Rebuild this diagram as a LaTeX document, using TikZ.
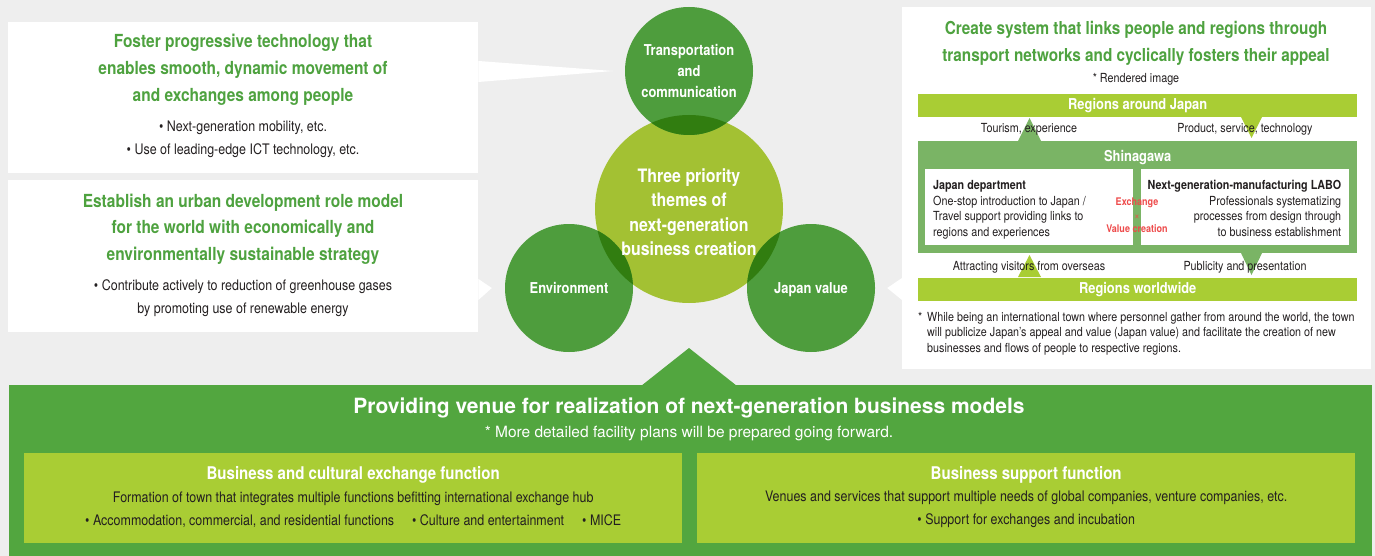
\documentclass[tikz,border=0pt]{standalone}
\usepackage{fontspec}
\setmainfont{TeX Gyre Heros}[FakeStretch=0.86]
\newfontfamily\plainheros{TeX Gyre Heros}
\usepackage{tikz}
\usetikzlibrary{positioning}
\definecolor{bggrey}{HTML}{EEEEEE}
\definecolor{leafgreen}{HTML}{4EA23F}
\definecolor{circgreen}{HTML}{4E9D3D}
\definecolor{corelime}{HTML}{A3C133}
\definecolor{overlapgreen}{HTML}{317D10}
\definecolor{basegreen}{HTML}{52A63F}
\definecolor{barlime}{HTML}{A9CD34}
\definecolor{shinagreen}{HTML}{7AB465}
\definecolor{exred}{HTML}{EE4B4B}
\definecolor{textdark}{HTML}{231F20}

\begin{document}
\begin{tikzpicture}[x=1pt, y=-1pt,
                    panel/.style={rectangle, fill=white, inner sep=0},
                    headline/.style={text=leafgreen, font=\bfseries\fontsize{18}{27}\selectfont, align=center, inner sep=0},
                    note/.style={text=textdark, font=\fontsize{14.5}{23}\selectfont, align=center, inner sep=0},
                    small/.style={text=textdark, font=\fontsize{12.5}{15.7}\selectfont, inner sep=0},
                    theme/.style={circle, fill=circgreen, minimum size=128pt, inner sep=0, text=white, font=\bfseries\fontsize{15}{21}\selectfont, align=center},
                    core/.style={circle, fill=corelime, minimum size=188pt, inner sep=0},
                    bar/.style={rectangle, fill=barlime, minimum width=439pt, minimum height=23pt, inner sep=0, text=white, font=\bfseries\fontsize{15}{18}\selectfont},
                    func/.style={rectangle, fill=barlime, minimum width=658pt, minimum height=90pt, inner sep=0},
                    funchead/.style={text=white, font=\bfseries\fontsize{17.5}{21}\selectfont, inner sep=0}]
\fill[bggrey] (0,0) rectangle (1375,556);
\useasboundingbox (0,0) rectangle (1375,556);
% left panels
\node (foster) [panel, minimum width=470pt, minimum height=151pt, anchor=north west] at (8,22) {};
\node (urban) [panel, minimum width=470pt, minimum height=152pt, anchor=north west] at (8,180) {};
\node (fosterhead) [headline] at (243,70) {Foster progressive technology that\\enables smooth, dynamic movement of\\and exchanges among people};
\node (fosterlist) [note] at (243,139.5) {\textbullet\ Next-generation mobility, etc.\\\textbullet\ Use of leading-edge ICT technology, etc.};
\node (urbanhead) [headline, font=\bfseries\fontsize{18}{26.5}\selectfont] at (243,229) {Establish an urban development role model\\for the world with economically and\\environmentally sustainable strategy};
\node (urbanlist) [note, font=\fontsize{14.5}{22.5}\selectfont] at (243,298) {\textbullet\ Contribute actively to reduction of greenhouse gases\\by promoting use of renewable energy};
% three themes
\node (core) [core] at (689,209) {};
\node (transport) [theme] at (689,71) {Transportation\\and\\communication};
\node (environment) [theme] at (569,288) {Environment};
\node (japanvalue) [theme, text depth=0pt] at (811,288) {Japan value};
\begin{scope}
\clip (core.center) circle (94pt);
\fill[overlapgreen] (transport.center) circle (64pt) (environment.center) circle (64pt) (japanvalue.center) circle (64pt);
\end{scope}
\node (coretext) [text=white, font=\bfseries\fontsize{18.5}{24.5}\selectfont, align=center, inner sep=0] at ([yshift=-3pt]core.center) {Three priority\\themes of\\next-generation\\business creation};
% right panel
\node (linkage) [panel, minimum width=469pt, minimum height=362pt, anchor=north west] at (902,7) {};
\fill[white] ([yshift=-39pt]foster.north east) -- ([xshift=-12pt]transport.west) -- ([yshift=-60pt]foster.north east) -- cycle;
\fill[white] ([yshift=-99pt]urban.north east) -- ([xshift=-13pt]environment.west) -- ([yshift=-120pt]urban.north east) -- cycle;
\fill[white] ([yshift=-271pt]linkage.north west) -- ([xshift=12pt]japanvalue.east) -- ([yshift=-293pt]linkage.north west) -- cycle;
\node (linkhead) [headline, font=\bfseries\fontsize{17.8}{27}\selectfont] at (1136,43) {Create system that links people and regions through\\transport networks and cyclically fosters their appeal};
\node (rendered) [small] at (1136,79) {* Rendered image};
\node (shina) [rectangle, fill=shinagreen, minimum width=439pt, minimum height=112pt, inner sep=0, anchor=north west] at (918,141) {};
\node (rgnjapan) [bar, above=24pt of shina.north] {Regions around Japan};
\node (rgnworld) [bar, below=24pt of shina.south] {Regions worldwide};
\node (shinalabel) [text=white, font=\bfseries\fontsize{15}{18}\selectfont, inner sep=0, below=9pt of shina.north] {Shinagawa};
\node (jpdept) [panel, minimum width=208pt, minimum height=76pt, below right=28pt and 7pt of shina.north west] {};
\node (labo) [panel, minimum width=208pt, minimum height=76pt, below left=28pt and 8pt of shina.north east] {};
\node (jptext) [small, align=left, below right=11pt and 8pt of jpdept.north west] {\textbf{Japan department}\\One-stop introduction to Japan /\\Travel support providing links to\\regions and experiences};
\node (labotext) [small, align=right, below left=11pt and 8pt of labo.north east] {\textbf{Next-generation-manufacturing LABO}\\Professionals systematizing\\processes from design through\\to business establishment};
\node (exchange) [text=exred, font=\bfseries\fontsize{10.5}{13.5}\selectfont, align=center, inner sep=0] at (1137,215.5) {Exchange\\\textnormal{×}\\Value creation};
% flows
\fill[shinagreen] (1018,141) -- (1029.5,118) -- (1041,141) -- cycle;
\fill[barlime] (1241,117) -- (1251.5,138) -- (1262,117) -- cycle;
\fill[barlime] (1018,277) -- (1029.5,255) -- (1041,277) -- cycle;
\fill[shinagreen] (1241,253) -- (1251.5,275) -- (1262,253) -- cycle;
\node (tourism) [small] at (1029,129) {Tourism, experience};
\node (product) [small] at (1245,129) {Product, service, technology};
\node (attract) [small] at (1029,267) {Attracting visitors from overseas};
\node (publicity) [small] at (1245,267) {Publicity and presentation};
\node (footstar) [small, anchor=north west] at (918,312) {*};
\node (footnote) [small, align=left, font=\fontsize{12.5}{15.5}\selectfont, anchor=north west] at (927,312) {While being an international town where personnel gather from around the world, the town\\will publicize Japan’s appeal and value (Japan value) and facilitate the creation of new\\businesses and flows of people to respective regions.};
% venue
\node (venue) [rectangle, fill=basegreen, minimum width=1363pt, minimum height=171pt, inner sep=0, anchor=north west] at (9,385) {};
\fill[basegreen] (641,386) -- (689,348) -- (737,386) -- cycle;
\node (venuehead) [text=white, font=\plainheros\bfseries\fontsize{21}{24}\selectfont, inner sep=0] at (689,408) {Providing venue for realization of next-generation business models};
\node (venuenote) [text=white, font=\plainheros\fontsize{15.5}{18}\selectfont, inner sep=0] at (689,433.5) {* More detailed facility plans will be prepared going forward.};
\node (exchangefn) [func, below right=68pt and 15pt of venue.north west] {};
\node (supportfn) [func, below left=68pt and 17pt of venue.north east] {};
\node (exchangehead) [funchead] at ([yshift=23pt]exchangefn.center) {Business and cultural exchange function};
\node (exchangebody) [note] at ([yshift=-11.5pt]exchangefn.center) {Formation of town that integrates multiple functions befitting international exchange hub\\\textbullet\ Accommodation, commercial, and residential functions\quad\ \textbullet\ Culture and entertainment\quad\ \textbullet\ MICE};
\node (supporthead) [funchead] at ([yshift=23pt]supportfn.center) {Business support function};
\node (supportbody) [note] at ([yshift=-11.5pt]supportfn.center) {Venues and services that support multiple needs of global companies, venture companies, etc.\\\textbullet\ Support for exchanges and incubation};
\end{tikzpicture}
\end{document}
